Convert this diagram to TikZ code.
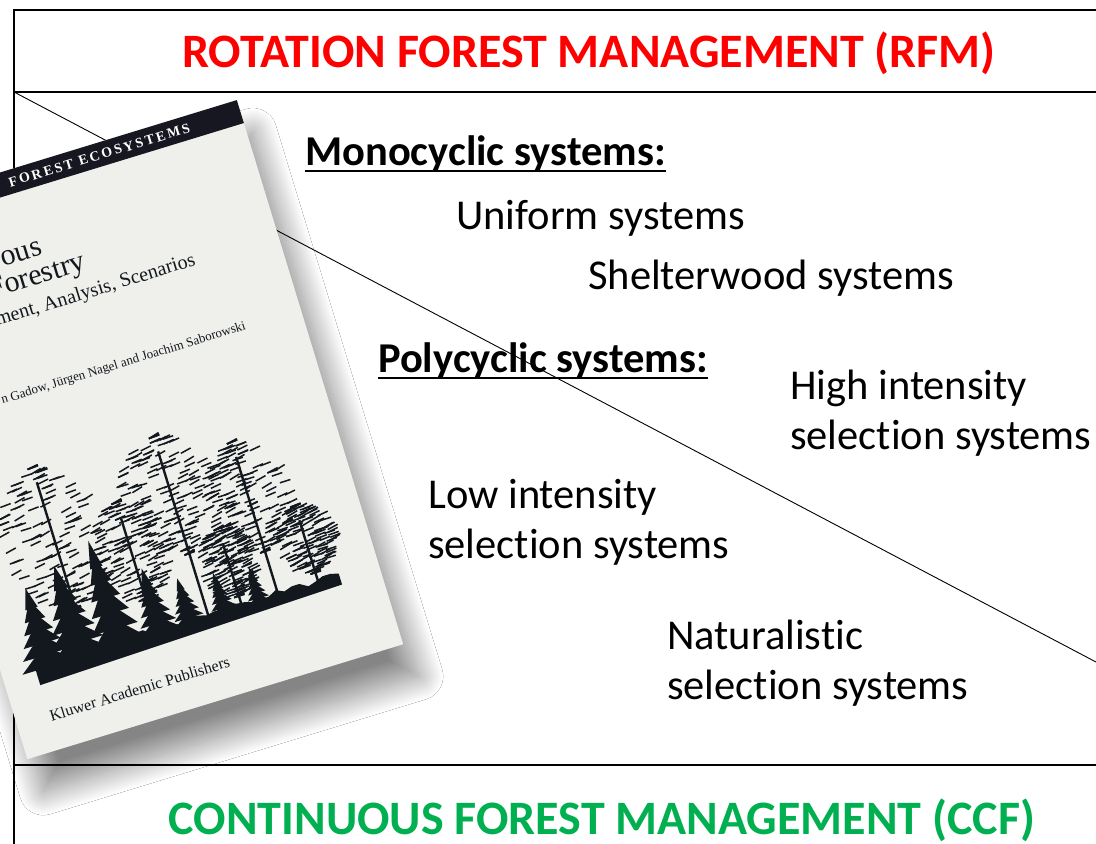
\documentclass[tikz,border=0pt]{standalone}
\usepackage{fontspec}
\setmainfont[Ligatures=NoCommon]{Carlito}
\newfontfamily\coverfont{Liberation Serif}
\newfontfamily\bandfont[LetterSpace=16]{Liberation Serif}
\usetikzlibrary{shadows.blur}
\definecolor{rfmred}{RGB}{255,0,0}
\definecolor{ccfgreen}{RGB}{0,176,80}
\definecolor{cover}{RGB}{239,240,235}
\definecolor{band}{RGB}{22,23,32}
\definecolor{ink}{RGB}{18,24,30}

\begin{document}
\begin{tikzpicture}
	[x=1pt, y=-1pt,
	frame/.style={line width=1.8pt},
	sep/.style={line width=1.3pt},
	heading/.style={font=\fontsize{48}{55}\selectfont\bfseries, anchor=base, inner sep=0pt},
	group/.style={font=\fontsize{42.5}{50}\selectfont\bfseries, anchor=base west, inner sep=0pt},
	item/.style={font=\fontsize{42.5}{50}\selectfont, anchor=base west, inner sep=0pt, align=left},
	uline/.style={line width=2.4pt},
	covertext/.style={ink, anchor=base west, inner sep=0pt, transform shape}]
	\useasboundingbox (0,0) rectangle (1096,844);
	\clip (0,0) rectangle (1096,844);
	\fill[white] (0,0) rectangle (1096,844);
	% frame
	\coordinate (tl) at (14,10);
	\coordinate (tr) at (1096,10);
	\coordinate (bl) at (14,844);
	\coordinate (hl) at (14,92);
	\coordinate (hr) at (1096,92);
	\coordinate (fl) at (14,765);
	\coordinate (fr) at (1096,765);
	\coordinate (dr) at (1096,662);
	\draw[frame] (tr) -- (tl) -- (bl);
	\draw[sep] (hl) -- (hr) (fl) -- (fr);
	% headings
	\node[heading, rfmred] (rfm) at (589,67) {ROTATION FOREST MANAGEMENT (RFM)};
	\node[heading, ccfgreen] (ccf) at (602,834) {CONTINUOUS FOREST MANAGEMENT (CCF)};
	% systems
	\node[group] (mono) at (305,165) {Monocyclic systems:};
	\draw[uline] ([yshift=-6pt]mono.base west) -- ([yshift=-6pt]mono.base east);
	\node[item] (unif) at (456,229) {Uniform systems};
	\node[item] (shel) at (588,289) {Shelterwood systems};
	\node[group] (poly) at (378,372) {Polycyclic systems:};
	\draw[uline] ([yshift=-6pt]poly.base west) -- ([yshift=-6pt]poly.base east);
	\node[item] (hi) at (790,449) {High intensity\\selection systems};
	\node[item] (lo) at (428,558) {Low intensity\\selection systems};
	\node[item] (nat) at (667,699) {Naturalistic\\selection systems};
	\draw[line width=0.9pt] (hl) -- (dr);
	% book
	\begin{scope}[shift={(-139,215)}, rotate=17]
		\fill[cover, blur shadow={shadow xshift=16pt, shadow yshift=-32pt, shadow blur radius=24pt, shadow blur steps=30, shadow opacity=48}] (0,0) rectangle (393,569);
		\fill[band] (0,0) rectangle (393,24);
		\node[covertext, white, anchor=base east, font=\bandfont\fontsize{14}{14}\selectfont\bfseries] (ser) at (340,17) {FOREST ECOSYSTEMS};
		\node[covertext, font=\coverfont\fontsize{30}{30}\selectfont] (t1) at (121,91) {ous};
		\node[covertext, font=\coverfont\fontsize{30}{30}\selectfont] (t2) at (100,118) {Forestry};
		\node[covertext, font=\coverfont\fontsize{20}{20}\selectfont] (t3) at (98,146) {ment, Analysis, Scenarios};
		\node[covertext, font=\coverfont\fontsize{13}{13}\selectfont] (au) at (80,222) {n Gadow, Jürgen Nagel and Joachim Saborowski};
		\node[covertext, font=\coverfont\fontsize{16}{16}\selectfont] (pub) at (34,540) {Kluwer Academic Publishers};
		% trees
		\pgfmathsetseed{11}
		\foreach \u/\t/\w/\b in {90/292/50/440, 215/298/52/420, 288/326/44/440, 160/350/36/455, 330/405/30/475, 250/405/28/475}{
			\draw[ink, line width=2.4pt] (\u,490) -- (\u,{\t+15});
			\foreach \r in {0,...,26}{
				\pgfmathsetmacro\vv{\t+\r*(\b-\t)/26}
				\pgfmathsetmacro\ww{\w*sqrt(sin(180*\r/26))}
				\foreach \s in {1,...,5}{
					\pgfmathsetmacro\uu{\u+\ww*(2*rnd-1)-5}
					\draw[ink, line width=1.5pt] (\uu,\vv) -- ++(11,{-3*rnd});
				}
			}
		}
		\foreach \u/\t/\w in {48/405/28, 82/392/32, 122/378/28, 165/420/22, 196/440/18, 232/445/15, 268/450/13}{
			\foreach \k in {0,...,5}{
				\pgfmathsetmacro\vt{\t+\k*(490-\t)/7}
				\pgfmathsetmacro\wk{\w*(\k+1.5)/6.5}
				\pgfmathsetmacro\vb{\vt+(490-\t)/4}
				\fill[ink] (\u,\vt) -- ({\u+\wk},\vb) -- ({\u-\wk},\vb) -- cycle;
			}
		}
		\fill[ink] (34,502) -- plot[domain=34:352, samples=40] (\x, {478+8*rnd}) -- (352,494) -- cycle;
	\end{scope}
\end{tikzpicture}
\end{document}
